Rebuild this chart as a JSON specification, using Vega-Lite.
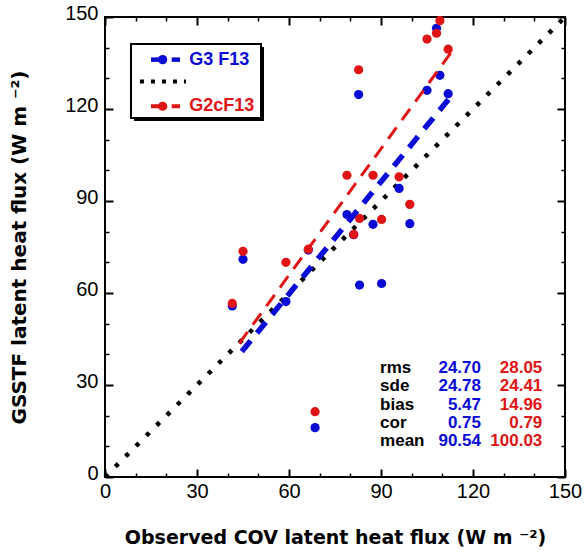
{
  "$schema": "https://vega.github.io/schema/vega-lite/v6.json",
  "width": 460,
  "height": 460,
  "autosize": "none",
  "padding": {"left": 105, "top": 17, "right": 21, "bottom": 77},
  "background": "white",
  "config": {
    "view": {"stroke": "black", "strokeWidth": 2},
    "axis": {"domain": false, "grid": false, "tickColor": "black", "labelColor": "black", "titleColor": "black",
             "labelFont": "Liberation Sans", "labelFontSize": 20, "titleFont": "DejaVu Sans", "titleFontSize": 19, "titleFontWeight": "bold",
             "labelOverlap": false, "labelFlush": false}
  },
  "datasets": {
    "points": [
      {"obs": 41.5, "G3": 55.8, "G2c": 56.6},
      {"obs": 45.0, "G3": 71.0, "G2c": 73.6},
      {"obs": 59.0, "G3": 57.2, "G2c": 70.0},
      {"obs": 66.3, "G3": 74.0, "G2c": 74.3},
      {"obs": 68.5, "G3": 16.1, "G2c": 21.3},
      {"obs": 78.9, "G3": 85.6, "G2c": 98.4},
      {"obs": 81.1, "G3": 79.0, "G2c": 79.1},
      {"obs": 82.7, "G3": 124.7, "G2c": 132.8},
      {"obs": 83.0, "G3": 62.6, "G2c": 84.3},
      {"obs": 87.4, "G3": 82.4, "G2c": 98.4},
      {"obs": 90.2, "G3": 63.1, "G2c": 84.0},
      {"obs": 95.9, "G3": 94.1, "G2c": 97.9},
      {"obs": 99.4, "G3": 82.6, "G2c": 88.9},
      {"obs": 105.0, "G3": 126.1, "G2c": 142.8},
      {"obs": 108.1, "G3": 146.3, "G2c": 144.7},
      {"obs": 109.2, "G3": 131.0, "G2c": 148.8},
      {"obs": 111.9, "G3": 125.0, "G2c": 139.5}
    ],
    "fits": [
      {"model": "G3 F13", "obs": 44.6, "sim": 40.9},
      {"model": "G3 F13", "obs": 112.3, "sim": 123.5},
      {"model": "G2cF13", "obs": 43.8, "sim": 43.6},
      {"model": "G2cF13", "obs": 113.2, "sim": 138.9}
    ],
    "oneToOne": [
      {"obs": 0, "sim": 0},
      {"obs": 150, "sim": 150}
    ],
    "stats": [
      {"stat": "rms", "G3": 24.70, "G2c": 28.05},
      {"stat": "sde", "G3": 24.78, "G2c": 24.41},
      {"stat": "bias", "G3": 5.47, "G2c": 14.96},
      {"stat": "cor", "G3": 0.75, "G2c": 0.79},
      {"stat": "mean", "G3": 90.54, "G2c": 100.03}
    ],
    "one": [{}]
  },
  "layer": [
    {
      "layer": [
        {
          "data": {"name": "oneToOne"},
          "mark": {"type": "line", "color": "black", "strokeWidth": 4.5, "strokeDash": [4.2, 10.4], "strokeCap": "butt"},
          "encoding": {
            "x": {"field": "obs", "type": "quantitative", "scale": {"domain": [0, 150], "nice": false},
                  "axis": {"orient": "bottom", "values": [0,10,20,30,40,50,60,70,80,90,100,110,120,130,140,150],
                           "labelExpr": "datum.value % 30 === 0 ? datum.label : ''",
                           "tickSize": {"condition": {"test": "datum.value % 30 === 0", "value": -8}, "value": -4},
                           "tickWidth": {"condition": {"test": "datum.value % 30 === 0", "value": 2}, "value": 1.5},
                           "labelPadding": 12,
                           "title": "Observed COV latent heat flux (W m ⁻²)", "titlePadding": 23}},
            "y": {"field": "sim", "type": "quantitative", "scale": {"domain": [0, 150], "nice": false},
                  "axis": {"orient": "left", "values": [0,10,20,30,40,50,60,70,80,90,100,110,120,130,140,150],
                           "labelExpr": "datum.value % 30 === 0 ? datum.label : ''",
                           "tickSize": {"condition": {"test": "datum.value % 30 === 0", "value": -8}, "value": -4},
                           "tickWidth": {"condition": {"test": "datum.value % 30 === 0", "value": 2}, "value": 1.5},
                           "labelPadding": 15, "labelOffset": -4,
                           "title": "GSSTF latent heat flux (W m ⁻²)  ", "titleFontSize": 20, "titlePadding": 35}}
          }
        },
        {
          "data": {"name": "points"},
          "mark": {"type": "circle", "color": "#0a0ad6", "size": 85, "opacity": 1},
          "encoding": {
            "x": {"field": "obs", "type": "quantitative", "scale": {"domain": [0, 150], "nice": false},
                  "axis": {"orient": "top", "values": [0,10,20,30,40,50,60,70,80,90,100,110,120,130,140,150], "labels": false, "title": null,
                           "tickSize": {"condition": {"test": "datum.value % 30 === 0", "value": -8}, "value": -4},
                           "tickWidth": {"condition": {"test": "datum.value % 30 === 0", "value": 2}, "value": 1.5}}},
            "y": {"field": "G3", "type": "quantitative", "scale": {"domain": [0, 150], "nice": false},
                  "axis": {"orient": "right", "values": [0,10,20,30,40,50,60,70,80,90,100,110,120,130,140,150], "labels": false, "title": null,
                           "tickSize": {"condition": {"test": "datum.value % 30 === 0", "value": -8}, "value": -4},
                           "tickWidth": {"condition": {"test": "datum.value % 30 === 0", "value": 2}, "value": 1.5}}}
          }
        },
        {
          "data": {"name": "points"},
          "mark": {"type": "circle", "color": "#e01414", "size": 85, "opacity": 1},
          "encoding": {
            "x": {"field": "obs", "type": "quantitative", "scale": {"domain": [0, 150], "nice": false}, "axis": null},
            "y": {"field": "G2c", "type": "quantitative", "scale": {"domain": [0, 150], "nice": false}, "axis": null}
          }
        },
        {
          "data": {"name": "fits"},
          "transform": [{"filter": "datum.model === 'G3 F13'"}],
          "mark": {"type": "line", "color": "#0a0ad6", "strokeWidth": 5.5, "strokeDash": [14, 10], "strokeCap": "butt"},
          "encoding": {
            "x": {"field": "obs", "type": "quantitative", "scale": {"domain": [0, 150], "nice": false}, "axis": null},
            "y": {"field": "sim", "type": "quantitative", "scale": {"domain": [0, 150], "nice": false}, "axis": null}
          }
        },
        {
          "data": {"name": "fits"},
          "transform": [{"filter": "datum.model === 'G2cF13'"}],
          "mark": {"type": "line", "color": "#e01414", "strokeWidth": 3, "strokeDash": [14, 9], "strokeCap": "butt"},
          "encoding": {
            "x": {"field": "obs", "type": "quantitative", "scale": {"domain": [0, 150], "nice": false}, "axis": null},
            "y": {"field": "sim", "type": "quantitative", "scale": {"domain": [0, 150], "nice": false}, "axis": null}
          }
        },
        {
          "data": {"name": "one"},
          "mark": {"type": "rect", "color": "black"},
          "encoding": {
            "x": {"datum": 9.46, "type": "quantitative", "scale": {"domain": [0, 150], "nice": false}, "axis": null},
            "x2": {"datum": 51.85},
            "y": {"datum": 140.2, "type": "quantitative", "scale": {"domain": [0, 150], "nice": false}, "axis": null},
            "y2": {"datum": 116.1}
          }
        },
        {
          "data": {"name": "one"},
          "mark": {"type": "rect", "fill": "white", "stroke": "black", "strokeWidth": 2},
          "encoding": {
            "x": {"datum": 8.48, "type": "quantitative", "scale": {"domain": [0, 150], "nice": false}, "axis": null},
            "x2": {"datum": 50.87},
            "y": {"datum": 141.2, "type": "quantitative", "scale": {"domain": [0, 150], "nice": false}, "axis": null},
            "y2": {"datum": 117.07}
          }
        },
        {
          "data": {"name": "one"},
          "mark": {"type": "rule", "color": "#0a0ad6", "strokeWidth": 4.5},
          "encoding": {
            "x": {"datum": 15.0, "type": "quantitative", "scale": {"domain": [0, 150], "nice": false}, "axis": null},
            "x2": {"datum": 18.8},
            "y": {"datum": 136.1, "type": "quantitative", "scale": {"domain": [0, 150], "nice": false}, "axis": null}
          }
        },
        {
          "data": {"name": "one"},
          "mark": {"type": "rule", "color": "#0a0ad6", "strokeWidth": 4.5},
          "encoding": {
            "x": {"datum": 21.75, "type": "quantitative", "scale": {"domain": [0, 150], "nice": false}, "axis": null},
            "x2": {"datum": 24.46},
            "y": {"datum": 136.1, "type": "quantitative", "scale": {"domain": [0, 150], "nice": false}, "axis": null}
          }
        },
        {
          "data": {"name": "one"},
          "mark": {"type": "circle", "color": "#0a0ad6", "size": 85, "opacity": 1},
          "encoding": {
            "x": {"datum": 18.8, "type": "quantitative", "scale": {"domain": [0, 150], "nice": false}, "axis": null},
            "y": {"datum": 136.1, "type": "quantitative", "scale": {"domain": [0, 150], "nice": false}, "axis": null}
          }
        },
        {
          "data": {"name": "one"},
          "mark": {"type": "rule", "color": "black", "strokeWidth": 4, "strokeDash": [4, 7], "strokeCap": "butt"},
          "encoding": {
            "x": {"datum": 11.4, "type": "quantitative", "scale": {"domain": [0, 150], "nice": false}, "axis": null},
            "x2": {"datum": 26.4},
            "y": {"datum": 129.0, "type": "quantitative", "scale": {"domain": [0, 150], "nice": false}, "axis": null}
          }
        },
        {
          "data": {"name": "one"},
          "mark": {"type": "rule", "color": "#e01414", "strokeWidth": 4},
          "encoding": {
            "x": {"datum": 15.0, "type": "quantitative", "scale": {"domain": [0, 150], "nice": false}, "axis": null},
            "x2": {"datum": 18.8},
            "y": {"datum": 120.9, "type": "quantitative", "scale": {"domain": [0, 150], "nice": false}, "axis": null}
          }
        },
        {
          "data": {"name": "one"},
          "mark": {"type": "rule", "color": "#e01414", "strokeWidth": 4},
          "encoding": {
            "x": {"datum": 21.75, "type": "quantitative", "scale": {"domain": [0, 150], "nice": false}, "axis": null},
            "x2": {"datum": 24.46},
            "y": {"datum": 120.9, "type": "quantitative", "scale": {"domain": [0, 150], "nice": false}, "axis": null}
          }
        },
        {
          "data": {"name": "one"},
          "mark": {"type": "circle", "color": "#e01414", "size": 85, "opacity": 1},
          "encoding": {
            "x": {"datum": 18.8, "type": "quantitative", "scale": {"domain": [0, 150], "nice": false}, "axis": null},
            "y": {"datum": 120.9, "type": "quantitative", "scale": {"domain": [0, 150], "nice": false}, "axis": null}
          }
        },
        {
          "data": {"name": "one"},
          "mark": {"type": "text", "color": "#0a0ad6", "font": "Liberation Sans", "fontWeight": "bold", "fontSize": 18, "align": "left", "baseline": "middle"},
          "encoding": {
            "x": {"datum": 27.5, "type": "quantitative", "scale": {"domain": [0, 150], "nice": false}, "axis": null},
            "y": {"datum": 136.1, "type": "quantitative", "scale": {"domain": [0, 150], "nice": false}, "axis": null},
            "text": {"value": "G3 F13"}
          }
        },
        {
          "data": {"name": "one"},
          "mark": {"type": "text", "color": "#e01414", "font": "Liberation Sans", "fontWeight": "bold", "fontSize": 18, "align": "left", "baseline": "middle"},
          "encoding": {
            "x": {"datum": 27.5, "type": "quantitative", "scale": {"domain": [0, 150], "nice": false}, "axis": null},
            "y": {"datum": 120.9, "type": "quantitative", "scale": {"domain": [0, 150], "nice": false}, "axis": null},
            "text": {"value": "G2cF13"}
          }
        }
      ],
      "resolve": {"axis": {"x": "independent", "y": "independent"}}
    },
    {
      "data": {"name": "stats"},
      "transform": [{"window": [{"op": "row_number", "as": "row"}]}],
      "encoding": {
        "y": {"field": "row", "type": "quantitative",
              "scale": {"domain": [-18.33, 6.98], "reverse": true, "nice": false, "zero": false}, "axis": null}
      },
      "layer": [
        {
          "mark": {"type": "text", "color": "black", "font": "Liberation Sans", "fontWeight": "bold", "fontSize": 17, "align": "left", "baseline": "middle"},
          "encoding": {
            "x": {"datum": 89.7, "type": "quantitative", "scale": {"domain": [0, 150], "nice": false}, "axis": null},
            "text": {"field": "stat"}
          }
        },
        {
          "mark": {"type": "text", "color": "#0a0ad6", "font": "Liberation Sans", "fontWeight": "bold", "fontSize": 17, "align": "right", "baseline": "middle"},
          "encoding": {
            "x": {"datum": 122.6, "type": "quantitative", "scale": {"domain": [0, 150], "nice": false}, "axis": null},
            "text": {"field": "G3", "type": "quantitative", "format": ".2f"}
          }
        },
        {
          "mark": {"type": "text", "color": "#e01414", "font": "Liberation Sans", "fontWeight": "bold", "fontSize": 17, "align": "right", "baseline": "middle"},
          "encoding": {
            "x": {"datum": 142.6, "type": "quantitative", "scale": {"domain": [0, 150], "nice": false}, "axis": null},
            "text": {"field": "G2c", "type": "quantitative", "format": ".2f"}
          }
        }
      ]
    }
  ],
  "resolve": {"scale": {"y": "independent"}, "axis": {"x": "independent", "y": "independent"}}
}
